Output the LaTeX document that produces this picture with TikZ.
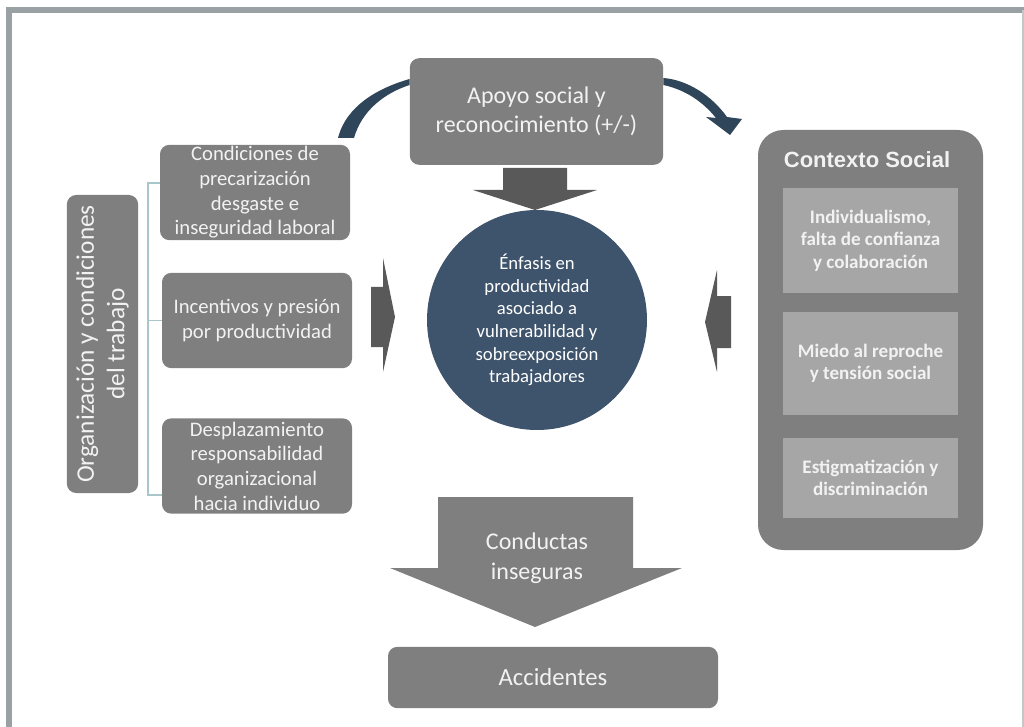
\documentclass[tikz,border=0pt]{standalone}
\usepackage{fontspec}
\setmainfont{Carlito}
\newfontfamily\titlefont{Liberation Sans}
\usepackage{xcolor}
\usepackage{tikz}

\definecolor{boxgray}{HTML}{7F7F7F}
\definecolor{lightbox}{HTML}{A6A6A6}
\definecolor{arrowgray}{HTML}{595959}
\definecolor{circnavy}{HTML}{3E536C}
\definecolor{arcnavy}{HTML}{2F4559}
\definecolor{boxtext}{HTML}{F2F2F2}
\definecolor{framegray}{HTML}{9AA1A4}
\definecolor{linkteal}{HTML}{A9C6CB}

\tikzset{
  greybox/.style={fill=boxgray, rounded corners=7pt, text=boxtext, align=center, inner sep=0pt},
  sidebox/.style={greybox, minimum width=142.5pt, minimum height=71.5pt, font=\fontsize{15.5}{18.5}\selectfont},
  innerbox/.style={fill=lightbox, text=boxtext, align=center, inner sep=0pt, minimum width=131pt, font=\bfseries\fontsize{14.3}{16.8}\selectfont},
  blockarrow/.style={fill=arrowgray},
  linkline/.style={draw=linkteal, line width=0.9pt},
}

\begin{document}
\begin{tikzpicture}[x=0.75pt, y=-0.75pt]
\useasboundingbox (0,0) rectangle (1024,727);
\draw[framegray, line width=4.5pt] (9,735) -- (9,10.5) -- (1030,10.5);
\draw[framegray!60, line width=1pt] (1023,10.5) -- (1023,735);

\node[greybox, minimum width=190pt, minimum height=80pt, font=\fontsize{18}{22}\selectfont] (apoyo) at (536.5,111.5) {Apoyo social y\\reconocimiento (+/-)};

\node[circle, fill=circnavy, minimum size=165pt, text=white, align=center, inner sep=0pt, font=\fontsize{14}{17}\selectfont] (enfasis) at (537,320) {Énfasis en\\productividad\\asociado a\\vulnerabilidad y\\sobreexposición\\trabajadores};

\node[greybox, rotate=90, minimum width=223.5pt, minimum height=53.5pt, font=\fontsize{19}{23}\selectfont] (organiz) at (102.5,344) {Organización y condiciones\\del trabajo};

\node[sidebox] (precar) at (255,192.5) {Condiciones de\\precarización\\desgaste e\\inseguridad laboral};
\node[sidebox] (incent) at (257,320.5) {Incentivos y presión\\por productividad};
\node[sidebox] (desplaz) at (257,466) {Desplazamiento\\responsabilidad\\organizacional\\hacia individuo};

\draw[linkline] (precar.west |- 0,183) -- (148,183) -- (148,495) -- (desplaz.west |- 0,495);
\draw[linkline] (incent.west) -- (incent.west -| 148,0);

\node[greybox, rounded corners=19pt, minimum width=168.75pt, minimum height=315pt] (contexto) at (870.5,340) {};
\node[text=boxtext, font=\titlefont\bfseries\fontsize{16.5}{19}\selectfont] (ctxtitle) at (867,160) {Contexto Social};
\node[innerbox, minimum height=78.75pt] (indiv) at (870.5,240.5) {Individualismo,\\falta de confianza\\y colaboración};
\node[innerbox, minimum height=77.25pt] (miedo) at (870.5,363.5) {Miedo al reproche\\y tensión social};
\node[innerbox, minimum height=60pt] (estigma) at (870.5,478) {Estigmatización y\\discriminación};

\fill[blockarrow] (503,168) -- (567,168) -- (567,190) -- (597,190) -- (535,210) -- (473,190) -- (503,190) -- cycle;
\fill[blockarrow] (371,287) -- (383,287) -- (383,258) -- (395,317) -- (383,372) -- (383,347) -- (371,347) -- cycle;
\fill[blockarrow] (731,296) -- (717,296) -- (717,270) -- (705,322) -- (717,372) -- (717,348) -- (731,348) -- cycle;

\fill[arcnavy] (338,138) .. controls (346,106) and (378,88) .. (apoyo.west |- 0,79) -- (apoyo.west |- 0,85) .. controls (385,93) and (362,110) .. (354,138) -- cycle;
\fill[arcnavy] (apoyo.east |- 0,78) .. controls (688,80) and (712,96) .. (727,117) -- (742,119) -- (730,135) -- (706,117) -- (716,118) .. controls (703,102) and (686,90) .. (apoyo.east |- 0,85) -- cycle;

\fill[boxgray] (438,497) -- (633,497) -- (633,568) -- (682,568) -- (535,627) -- (390,568) -- (438,568) -- cycle;
\node[text=boxtext, align=center, font=\fontsize{18}{22.5}\selectfont] (conductas) at (537,558) {Conductas\\inseguras};

\node[greybox, minimum width=247.5pt, minimum height=46pt, font=\fontsize{18.5}{22}\selectfont] (accid) at (553,677.5) {Accidentes};
\end{tikzpicture}
\end{document}
